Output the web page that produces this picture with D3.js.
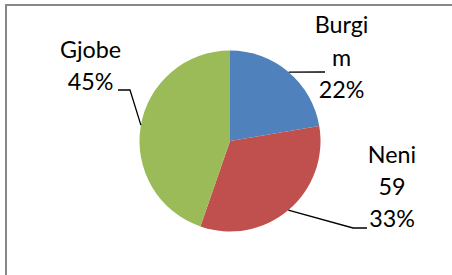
<!DOCTYPE html>
<html><head><meta charset="utf-8">
<script src="https://cdn.jsdelivr.net/npm/d3@7"></script>
<style>html,body{margin:0;padding:0;background:#fff;}svg{display:block;}</style>
</head><body>
<script>
const categories = ["Burgim", "Neni 59", "Gjobe"];
const values = [40, 59, 80];
const labelLines = [["Burgi", "m", "22%"], ["Neni", "59", "33%"], ["Gjobe", "45%"]];
const colors = ["#4F81BD", "#C0504D", "#9BBB59"];

const W = 452, H = 275;
const svg = d3.select("body").append("svg").attr("width", W).attr("height", H);

svg.append("rect").attr("x", 6).attr("y", 5).attr("width", W + 10).attr("height", H + 10)
  .attr("fill", "#fff").attr("stroke", "#888").attr("stroke-width", 2);

const cx = 230, cy = 141, r = 90.5;
const pie = d3.pie().sort(null).value(d => d)(values);
const arc = d3.arc().innerRadius(0).outerRadius(r);
const g = svg.append("g").attr("transform", `translate(${cx},${cy})`);
g.selectAll("path").data(pie).join("path").attr("d", arc)
  .attr("fill", (d, i) => colors[i]);

const pt = (a, rr) => [cx + rr * Math.sin(a), cy - rr * Math.cos(a)];
const leaders = [
  [pt(Math.atan2(59, 69), r), [325, 72]],
  [pt(Math.PI - Math.atan2(59, 70), r), [353, 228], [367, 228]],
  [pt(Math.atan2(-90, 16), r), [130, 90], [118, 90]]
];
const line = d3.line();
svg.selectAll("path.leader").data(leaders).join("path").attr("class", "leader")
  .attr("d", d => line(d)).attr("fill", "none").attr("stroke", "#000").attr("stroke-width", 1.3);

const labelPos = [[341.5, 33.3], [392, 162.5], [90.5, 57.7]];
const lh = 32.3;
labelLines.forEach((ls, i) => {
  const t = svg.append("text").attr("text-anchor", "middle")
    .attr("font-family", "Lato").attr("font-size", 23.3).attr("fill", "#000");
  ls.forEach((s, j) => {
    t.append("tspan").attr("x", labelPos[i][0]).attr("y", labelPos[i][1] + j * lh).text(s);
  });
});
</script>
</body></html>
